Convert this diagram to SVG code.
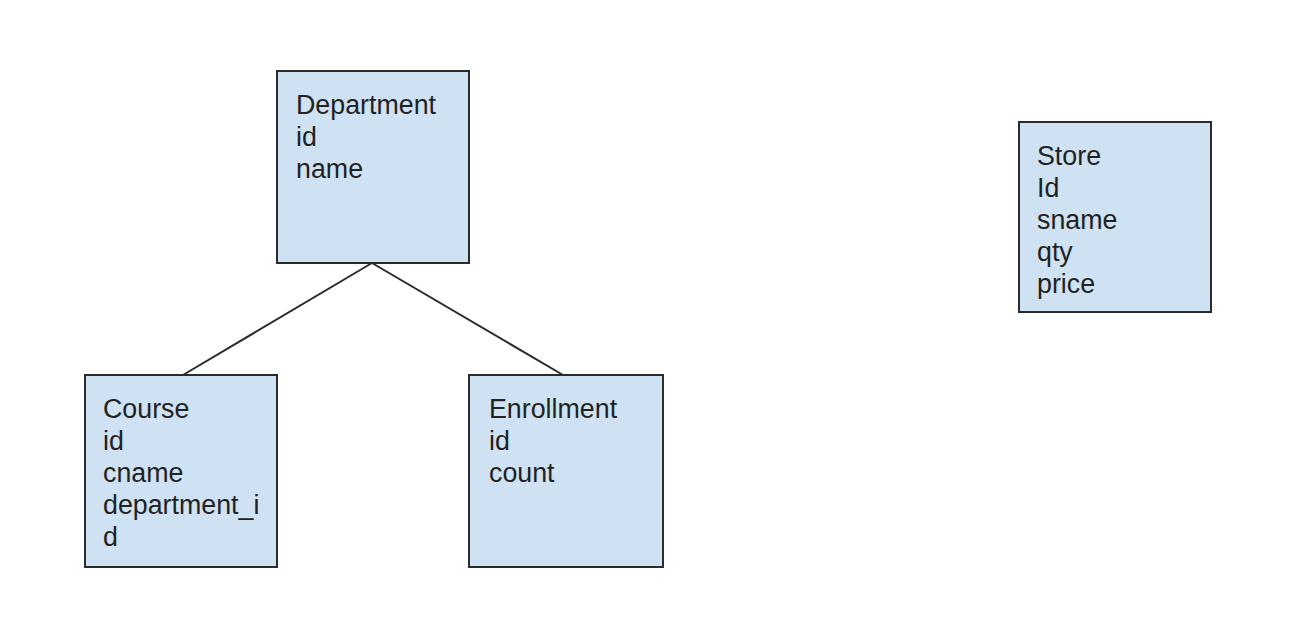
<svg xmlns="http://www.w3.org/2000/svg" width="1310" height="628" viewBox="0 0 1310 628">
<style>
.box{fill:#cfe2f3;stroke:#2b2b2b;stroke-width:2}
.t{font-family:"Liberation Sans",Arial,sans-serif;font-size:26.8px;fill:#222}
.c{stroke:#2b2b2b;stroke-width:2;fill:none}
</style>
<rect width="1310" height="628" fill="#ffffff"/>
<g id="connectors">
<line class="c" x1="372" y1="263" x2="183" y2="375"/>
<line class="c" x1="372" y1="263" x2="563" y2="375"/>
</g>
<g id="department">
<rect class="box" x="277" y="71" width="192" height="192"/>
<text class="t" x="296" y="114">Department</text>
<text class="t" x="296" y="146">id</text>
<text class="t" x="296" y="178">name</text>
</g>
<g id="course">
<rect class="box" x="85" y="375" width="192" height="192"/>
<text class="t" x="103" y="418">Course</text>
<text class="t" x="103" y="450">id</text>
<text class="t" x="103" y="482">cname</text>
<text class="t" x="103" y="514">department_i</text>
<text class="t" x="103" y="546">d</text>
</g>
<g id="enrollment">
<rect class="box" x="469" y="375" width="194" height="192"/>
<text class="t" x="489" y="418">Enrollment</text>
<text class="t" x="489" y="450">id</text>
<text class="t" x="489" y="482">count</text>
</g>
<g id="store">
<rect class="box" x="1019" y="122" width="192" height="190"/>
<text class="t" x="1037" y="165">Store</text>
<text class="t" x="1037" y="197">Id</text>
<text class="t" x="1037" y="229">sname</text>
<text class="t" x="1037" y="261">qty</text>
<text class="t" x="1037" y="293">price</text>
</g>
</svg>
